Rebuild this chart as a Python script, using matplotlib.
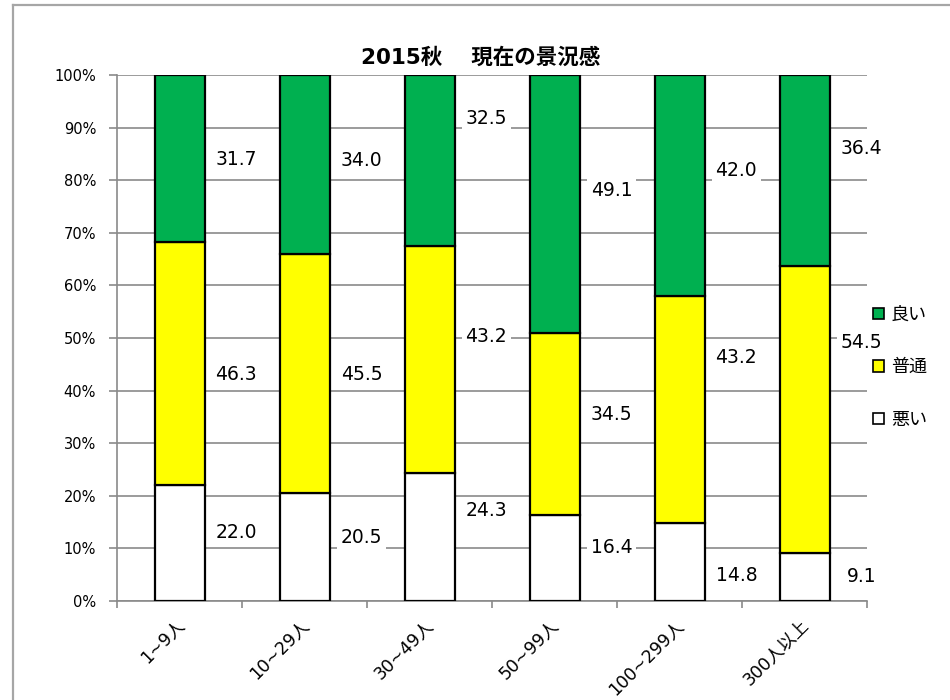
import matplotlib
matplotlib.use("Agg")
import matplotlib.pyplot as plt
from matplotlib.patches import Patch
from matplotlib.lines import Line2D
from matplotlib.transforms import ScaledTranslation
import numpy as np

plt.rcParams['font.family'] = ['DejaVu Sans', 'Noto Sans CJK JP']

# ---- data ----
categories = ["1~9人", "10~29人", "30~49人", "50~99人", "100~299人", "300人以上"]
bad = [22.0, 20.5, 24.3, 16.4, 14.8, 9.1]       # 悪い
normal = [46.3, 45.5, 43.2, 34.5, 43.2, 54.5]   # 普通
good = [31.7, 34.0, 32.5, 49.1, 42.0, 36.4]     # 良い
series_names = ["悪い", "普通", "良い"]
title = "2015秋\u3000 現在の景況感"

# ---- layout (label nudges in percentage points, relative to segment centre) ----
label_dy = {
    "悪い": [2.1, 1.9, 5.0, 1.9, -2.6, 0.2],
    "普通": [-2.1, -0.2, 4.4, 1.9, 9.8, 12.8],
    "良い": [-0.3, 0.8, 8.0, 2.6, 2.9, 4.3],
}
colors = {"悪い": "#FFFFFF", "普通": "#FFFF00", "良い": "#00B050"}

W, H = 950, 700
fig = plt.figure(figsize=(W / 100, H / 100), dpi=100)
ax = fig.add_axes([117 / W, 1 - 601 / H, (867 - 117) / W, (601 - 75) / H])

x = np.arange(len(categories))
data = {"悪い": bad, "普通": normal, "良い": good}
bottom = np.zeros(len(categories))
for name in series_names:
    vals = np.array(data[name])
    ax.bar(x, vals, width=0.4, bottom=bottom, color=colors[name],
           edgecolor="black", linewidth=1.6, zorder=3)
    for i, v in enumerate(vals):
        yc = bottom[i] + v / 2 + label_dy[name][i]
        ax.text(x[i] + 0.455, yc, f"{v:.1f}", ha="center", va="center",
                fontsize=13.5, color="black", zorder=5,
                bbox=dict(boxstyle="square,pad=0.2", fc="white", ec="none"))
    bottom += vals

ax.set_xlim(-0.5, len(categories) - 0.5)
ax.set_ylim(0, 100)
ax.set_yticks(np.arange(0, 101, 10))
ax.set_yticklabels([f"{v}%" for v in range(0, 101, 10)], fontsize=10.5)
ax.yaxis.grid(True, color="#8a8a8a", linewidth=1.2, zorder=0)
ax.set_axisbelow(True)

ax.set_xticks(x)
ax.set_xticklabels(categories, rotation=45, ha="right", fontsize=12.5)
ax.set_xticks(np.arange(-0.5, len(categories), 1), minor=True)
ax.tick_params(axis="x", which="major", length=0, pad=11)
ax.tick_params(axis="x", which="minor", length=5, width=1.2, color="#8a8a8a", direction="out")
ax.tick_params(axis="y", length=6, width=1.2, color="#8a8a8a", direction="out", pad=9)
shift = ScaledTranslation(6 / 72, 0, fig.dpi_scale_trans)
for lbl in ax.get_xticklabels():
    lbl.set_transform(lbl.get_transform() + shift)

for s in ["top", "right"]:
    ax.spines[s].set_visible(False)
for s in ["left", "bottom"]:
    ax.spines[s].set_color("#8a8a8a")
    ax.spines[s].set_linewidth(1.2)

# title
fig.text(481 / W, 1 - 58 / H, title, ha="center", va="center",
         fontsize=15.5, fontweight="bold")

# legend (reverse order)
leg_handles = [Patch(facecolor=colors[n], edgecolor="black", linewidth=1.2) for n in series_names[::-1]]
fig.legend(leg_handles, series_names[::-1], loc="upper left",
           bbox_to_anchor=(873 / W, 1 - 306 / H), frameon=False,
           fontsize=13, handlelength=0.6, handleheight=0.6,
           handletextpad=0.4, labelspacing=1.9, borderpad=0, borderaxespad=0)

# outer chart border (left and top visible)
fig.add_artist(Line2D([13 / W, 13 / W], [0, 1 - 5 / H], transform=fig.transFigure,
                      color="#a6a6a6", linewidth=1.6))
fig.add_artist(Line2D([13 / W, 1], [1 - 5 / H, 1 - 5 / H], transform=fig.transFigure,
                      color="#a6a6a6", linewidth=1.6))

fig.savefig("out.png", dpi=100)
